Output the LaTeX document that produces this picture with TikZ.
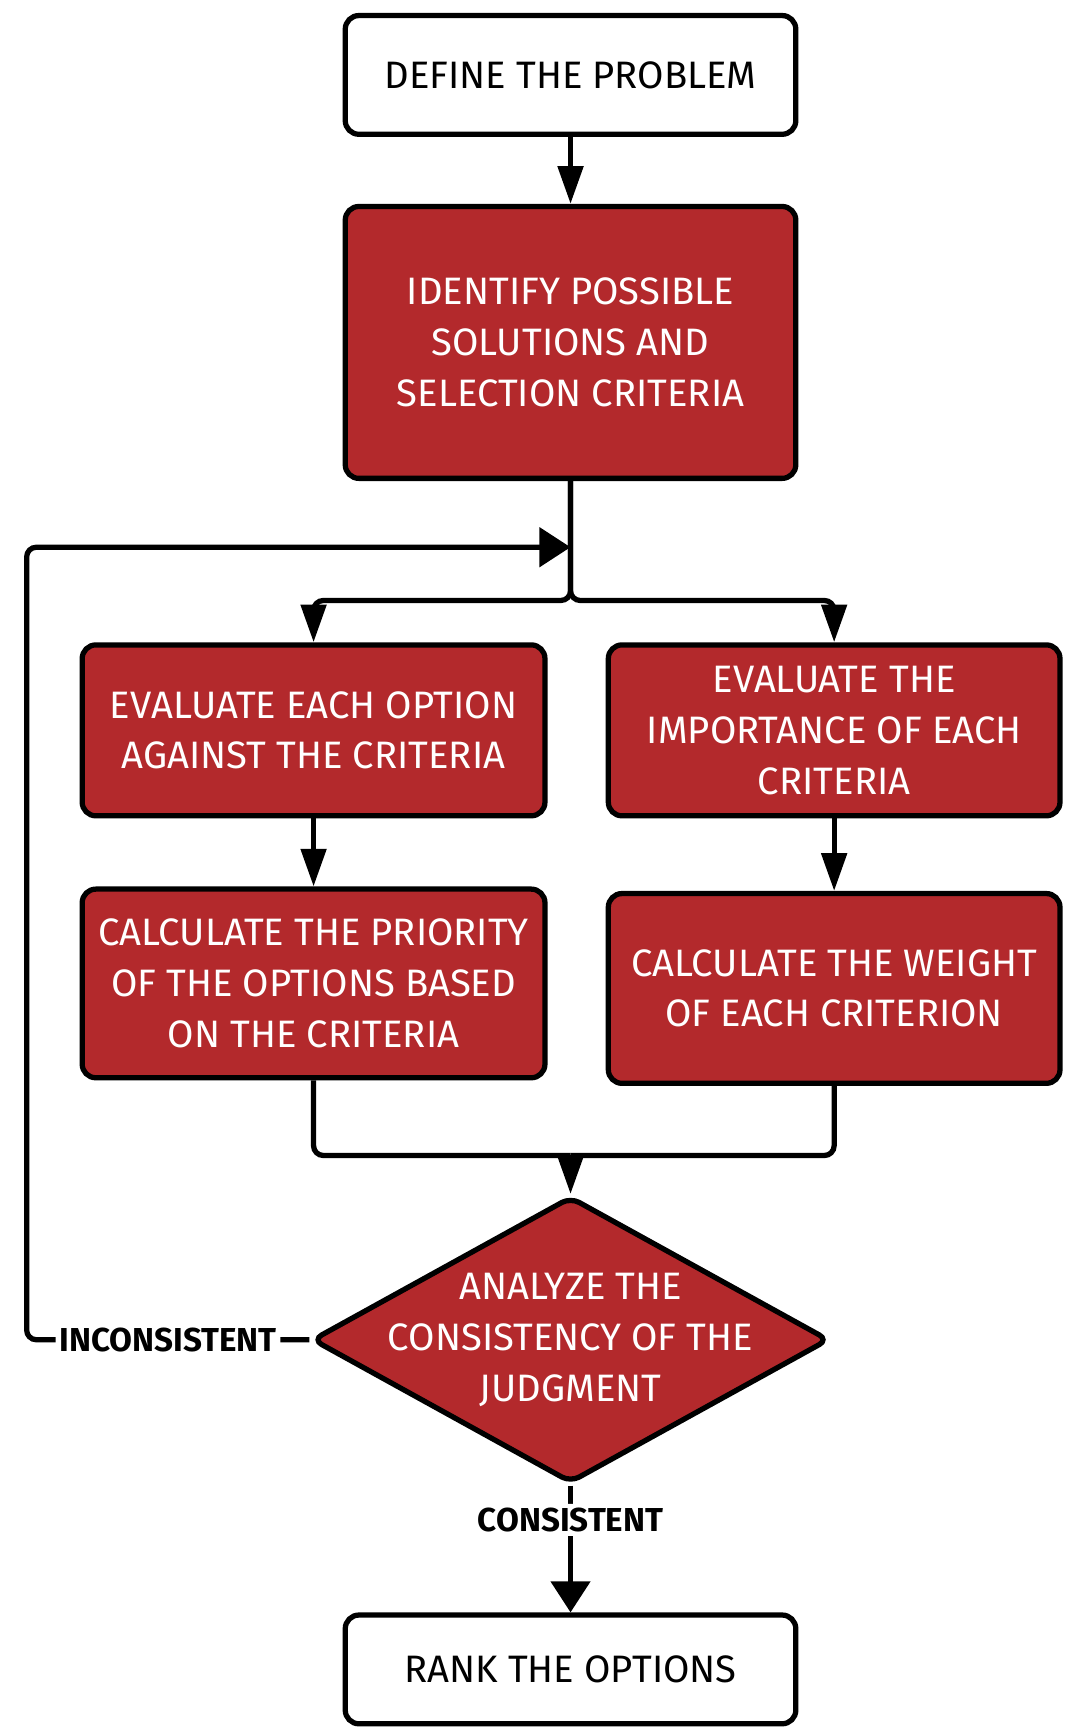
\documentclass[tikz,border=0pt]{standalone}
\usepackage{fontspec}
\setmainfont{Fira Sans}
\usepackage{xcolor}
\usepackage{tikz}
\usetikzlibrary{arrows.meta}
\usetikzlibrary{shapes.geometric}
\definecolor{boxred}{RGB}{179,41,44}

\tikzset{
  box/.style={draw, line width=2.7pt, rounded corners=7pt, align=center, inner sep=0pt,
    font=\fontsize{19.6}{26}\selectfont},
  whitebox/.style={box, fill=white, text=black},
  redbox/.style={box, fill=boxred, text=white},
  line/.style={line width=2.7pt, rounded corners=5pt},
  tip/.style={-{Triangle[length=0.68cm,width=0.45cm]}},
  widetip/.style={-{Triangle[length=0.56cm,width=0.7cm]}},
  lbl/.style={fill=white, inner sep=2pt, font=\fontsize{17}{20}\bfseries\selectfont}
}

\begin{document}
\begin{tikzpicture}[x=0.02cm, y=-0.02cm]
  \useasboundingbox (0,0) rectangle (975,1564);
  \node[whitebox, minimum width=8.12cm, minimum height=2.14cm] (define) at (514,67.5) {DEFINE THE PROBLEM};
  \node[redbox, minimum width=8.12cm, minimum height=4.9cm] (identify) at (514,308.5) {IDENTIFY POSSIBLE\\SOLUTIONS AND\\SELECTION CRITERIA};
  \node[redbox, minimum width=8.34cm, minimum height=3.08cm] (evalopt) at (282.5,658) {EVALUATE EACH OPTION\\AGAINST THE CRITERIA};
  \node[redbox, minimum width=8.14cm, minimum height=3.08cm] (evalcrit) at (751.5,658) {EVALUATE THE\\IMPORTANCE OF EACH\\CRITERIA};
  \node[redbox, minimum width=8.34cm, minimum height=3.4cm] (priority) at (282.5,886) {CALCULATE THE PRIORITY\\OF THE OPTIONS BASED\\ON THE CRITERIA};
  \node[redbox, minimum width=8.14cm, minimum height=3.42cm] (weight) at (751.5,890.5) {CALCULATE THE WEIGHT\\OF EACH CRITERION};
  \node[redbox, diamond, rounded corners=5pt, minimum width=9.32cm, minimum height=5.16cm,
    label={[align=center, text=white, font=\fontsize{19.6}{26}\selectfont]center:ANALYZE THE\\CONSISTENCY OF THE\\JUDGMENT}] (analyze) at (514,1207) {};
  \node[whitebox, minimum width=8.12cm, minimum height=1.96cm] (rank) at (514,1504) {RANK THE OPTIONS};
  \coordinate (loop) at (514,493);
  \coordinate (split) at (514,541);
  \coordinate (merge) at (514,1041);
  \coordinate (turn) at (24,1207);
  % connectors
  \draw[line, tip] (define) -- (identify);
  \draw[line, tip] (identify.south) -- (split) -| (evalopt.north);
  \draw[line, tip] (identify.south) -- (split) -| (evalcrit.north);
  \draw[line, tip] (evalopt) -- (priority);
  \draw[line, tip] (evalcrit) -- (weight);
  \draw[line] (priority.south) |- (merge);
  \draw[line] (weight.south) |- (merge);
  \draw[line, tip] (merge) -- (analyze.north);
  \draw[line, widetip] (analyze.south) -- node[lbl, pos=0.27] {CONSISTENT} (rank.north);
  \draw[line, widetip] (analyze.west) -- node[lbl] {INCONSISTENT} (turn) |- (loop);
\end{tikzpicture}
\end{document}
